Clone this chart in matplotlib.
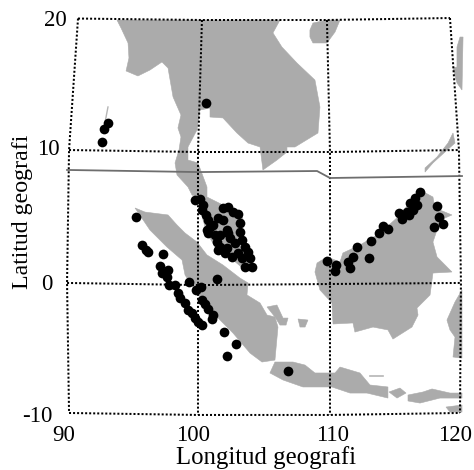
import matplotlib
matplotlib.use("Agg")
import matplotlib.pyplot as plt
from matplotlib.patches import Polygon

# Land outlines (longitude, latitude)
mainland = [(93.86,20),(94.17,19.39),(94.7,18.26),(94.77,17.12),(94.55,16.14),(95.45,15.76),(96.36,16.21),(97.27,16.82),(97.73,16.36),(98.11,14.17),(98.71,12.8),(98.48,11.82),(98.71,11.14),(98.56,10.15),(98.26,9.17),(98.41,8.26),(99.24,7.35),(99.55,6.74),(100,6.59),(100.38,4.85),(100.68,3.86),(101.44,2.58),(102.65,1.82),(103.56,1.06),(104.17,1.21),(104.09,2.05),(103.18,3.56),(103.41,4.85),(103.33,5.38),(102.2,5.83),(100.68,6.59),(100.68,7.35),(100,9.17),(99.24,9.39),(99.24,10.38),(99.92,11.67),(100.15,13.18),(100.91,13.33),(100.91,12.65),(101.89,12.58),(102.95,11.44),(103.79,10.68),(104.7,10.38),(104.92,8.64),(105.98,9.39),(106.74,10),(106.74,10.38),(107.35,10.38),(109.09,11.44),(109.24,13.41),(108.86,15.45),(107.5,16.74),(106.36,17.95),(105.68,19.02),(106.21,20)]
hainan = [(108.48,19.24),(108.71,19.77),(109.77,20),(110.76,20),(110.38,19.09),(109.77,18.26),(108.71,18.26),(108.48,18.71)]
luzon = [(119.85,18.71),(120.08,18.71),(120,14.7),(119.62,15.23),(119.32,16.36),(119.62,16.44),(119.62,17.95)]
palawan = [(119.32,11.44),(119.47,10.68),(118.71,10),(117.8,9.17),(117.2,8.48),(117.2,8.79),(118.11,9.62),(118.94,10.68)]
sumatra = [(95.23,5.76),(95.98,5.45),(97.73,5.23),(98.41,4.47),(99.02,3.86),(99.92,3.18),(100.68,2.2),(101.89,1.44),(103.18,0.45),(103.79,0.08),(103.71,-0.83),(104.7,-1.44),(105.23,-2.35),(105.83,-2.5),(106.06,-3.26),(105.83,-5.76),(104.85,-5.91),(103.94,-5.23),(102.65,-3.71),(101.67,-2.73),(100.76,-1.74),(99.92,-0.68),(99.02,0.68),(98.79,1.82),(97.65,2.8),(96.36,4.09)]
bangka = [(105.23,-1.74),(105.98,-1.59),(106.44,-2.58),(106.82,-2.58),(106.67,-3.11),(106.21,-3.11),(105.83,-2.5)]
belitung = [(107.58,-2.65),(108.33,-2.73),(108.11,-3.26),(107.73,-3.26)]
borneo = [(116.82,7.12),(117.8,6.59),(117.95,5.76),(119.24,5.23),(118.71,5),(118.11,4.09),(117.8,3.18),(118.11,2.05),(119.24,0.91),(117.8,0.83),(117.58,-0.83),(116.59,-1.82),(116.67,-2.35),(116.21,-3.26),(114.77,-4.17),(114.39,-3.48),(113.26,-3.26),(111.89,-3.64),(111.74,-2.95),(110.23,-3.03),(110.15,-1.44),(109.24,-0.45),(108.86,0.91),(109.02,1.59),(109.77,2.05),(110.76,1.67),(110.98,2.35),(112.27,2.95),(113.79,3.86),(115.15,5.08)]
sulawesi = [(120,-0.45),(119.47,-1.36),(118.86,-2.73),(119.09,-3.48),(119.47,-4.02),(119.32,-5.53),(120,-5.61)]
java = [(105.45,-6.74),(105.83,-5.91),(107.2,-5.91),(108.11,-6.14),(108.86,-6.74),(110.38,-6.74),(110.76,-6.29),(112.27,-6.74),(113.03,-7.65),(114.39,-7.8),(114.39,-8.64),(112.8,-8.26),(111.52,-8.26),(110.15,-7.8),(107.95,-7.8),(106.44,-7.27)]
bali = [(114.47,-8.18),(115.3,-7.88),(115.76,-8.26),(115.08,-8.64)]
sumbawa = [(115.91,-8.41),(117.05,-8.18),(117.73,-7.95),(119.09,-8.26),(120,-8.26),(120,-8.64),(118.33,-8.64),(116.82,-9.02),(115.91,-8.86)]
flores = [(118.79,-9.32),(120,-9.17),(120,-9.7),(119.09,-9.7)]
land_shapes = [mainland, hainan, luzon, palawan, sumatra, bangka, belitung, borneo, sulawesi, java, bali, sumbawa, flores]

andaman_line = [(93.18,13.41),(92.95,12.2)]
madura_line = [(113.03,-6.97),(114.02,-6.97)]

# Plate boundary trace
boundary = [(90.08,8.64),(100,8.48),(109.02,8.56),(110,8.03),(120,8.18)]

# Graticule as drawn in the map (slightly bent)
lat20 = [(90.91,20.11),(100.3,20),(109.77,20),(119.09,20.15)]
lat10 = [(90.23,10.15),(100,10),(110,10),(119.77,10.15)]
lat0 = [(90.08,0.08),(100,-0.08),(110,0),(119.92,0.08)]
latm10 = [(90.23,-9.77),(100,-9.92),(110,-9.92),(119.85,-9.77)]
lon90 = [lat20[0],lat10[0],lat0[0],latm10[0]]
lon100 = [lat20[1],lat10[1],lat0[1],latm10[1]]
lon110 = [lat20[2],lat10[2],lat0[2],latm10[2]]
lon120 = [lat20[3],lat10[3],lat0[3],latm10[3]]

# Observation points
andaman_pts = [(92.73,10.76),(92.88,11.74),(93.18,12.2),(100.6,13.71)]
malay_pts = [(99.77,6.36),(100.15,6.44),(100.38,5.98),(100.3,5.61),(100.61,5.23),(100.76,4.85),(101.14,4.47),(100.91,4.32),(100.68,4.09),(100.76,3.86),(101.29,3.71),(101.67,3.71),(101.89,5.76),(102.27,5.83),(102.65,5.45),(103.03,5.3),(103.18,4.62),(103.18,3.94),(101.89,4.85),(102.2,4.09),(102.27,3.86),(101.52,5.0),(101.44,3.18),(101.67,2.8),(101.52,2.58),(102.2,2.73),(102.42,3.48),(102.8,3.11),(103.33,3.33),(103.56,2.8),(103.79,2.42),(103.03,2.35),(103.33,1.97),(103.94,1.97),(104.09,1.29),(103.56,1.29),(102.05,2.35),(102.58,2.05)]
sumatra_pts = [(95.3,5.08),(95.76,2.95),(96.06,2.58),(96.21,2.42),(97.35,2.27),(97.12,1.36),(97.73,1.06),(97.27,0.83),(97.65,0.53),(97.8,-0.08),(98.26,-0.08),(99.32,0.15),(101.44,0.38),(99.85,-0.45),(100.23,-0.23),(98.48,-0.68),(98.64,-1.06),(99.02,-1.44),(99.24,-1.97),(99.55,-2.2),(99.77,-2.58),(100,-2.88),(100.3,-3.11),(100.3,-1.21),(100.53,-1.52),(100.76,-1.89),(101.14,-2.35),(101.06,-2.65),(101.97,-3.64),(102.88,-4.55),(102.2,-5.45),(106.82,-6.59)]
borneo_pts = [(109.77,1.74),(110.45,1.44),(110.38,0.98),(111.36,1.67),(111.74,2.05),(111.52,1.21),(112.05,2.8),(112.95,1.97),(113.11,3.26),(113.71,3.86),(114.02,4.39),(114.39,4.17),(115.23,5.38),(115.45,4.92),(115.83,5.45),(115.98,5.23),(116.29,5.61),(116.59,5.98),(116.06,6.14),(116.44,6.52),(116.82,6.97),(118.11,5.91),(118.26,5.08),(118.56,4.55),(117.88,4.32)]

x_ticks = [90, 100, 110, 120]
y_ticks = [20, 10, 0, -10]
x_title = "Longitud geografi"
y_title = "Latitud geografi"

fig = plt.figure(figsize=(4.74, 4.70), dpi=100)
ax = fig.add_axes([0, 0, 1, 1])
ax.set_xlim(85.0, 120.91)
ax.set_ylim(-14.09, 21.515)
ax.axis("off")

LAND = "#ababab"
for shape in land_shapes:
    ax.add_patch(Polygon(shape, closed=True, fc=LAND, ec=LAND, lw=0.4, zorder=1))
for line, lw in ((andaman_line, 1.0), (madura_line, 1.2)):
    ax.plot(*zip(*line), color="#b5b5b5", lw=lw, zorder=1)

for line in (lat20, lat10, lat0, latm10, lon90, lon100, lon110, lon120):
    ax.plot(*zip(*line), color="black", lw=1.45, ls=(0, (1, 1)),
            dash_capstyle="butt", zorder=2)

ax.plot(*zip(*boundary), color="#6e6e6e", lw=1.3, zorder=3)

for pts in (andaman_pts, malay_pts, sumatra_pts, borneo_pts):
    ax.plot(*zip(*pts), ls="none", marker="o", ms=7.0, mfc="black", mec="black",
            mew=0, zorder=4)

serif = ["Liberation Serif", "DejaVu Serif"]
for v, xp in zip(x_ticks, [89.85, 99.62, 110.19, 119.47]):
    ax.text(xp, -11.89, str(v), ha="center", va="baseline", family=serif, fontsize=16.5)
for v, xp, yp in zip(y_ticks, [90.08, 89.55, 89.0, 89.0], [19.58, 9.81, -0.42, -10.49]):
    ax.text(xp, yp, str(v), ha="right", va="baseline", family=serif, fontsize=16.5)
ax.text(105.15, -13.64, x_title, ha="center", va="baseline", family=serif, fontsize=17.8)
ax.text(87.12, 5.45, y_title, rotation=90, rotation_mode="anchor", ha="center",
        va="baseline", family=serif, fontsize=17.2)

fig.savefig("out.png", dpi=100, facecolor="white")
